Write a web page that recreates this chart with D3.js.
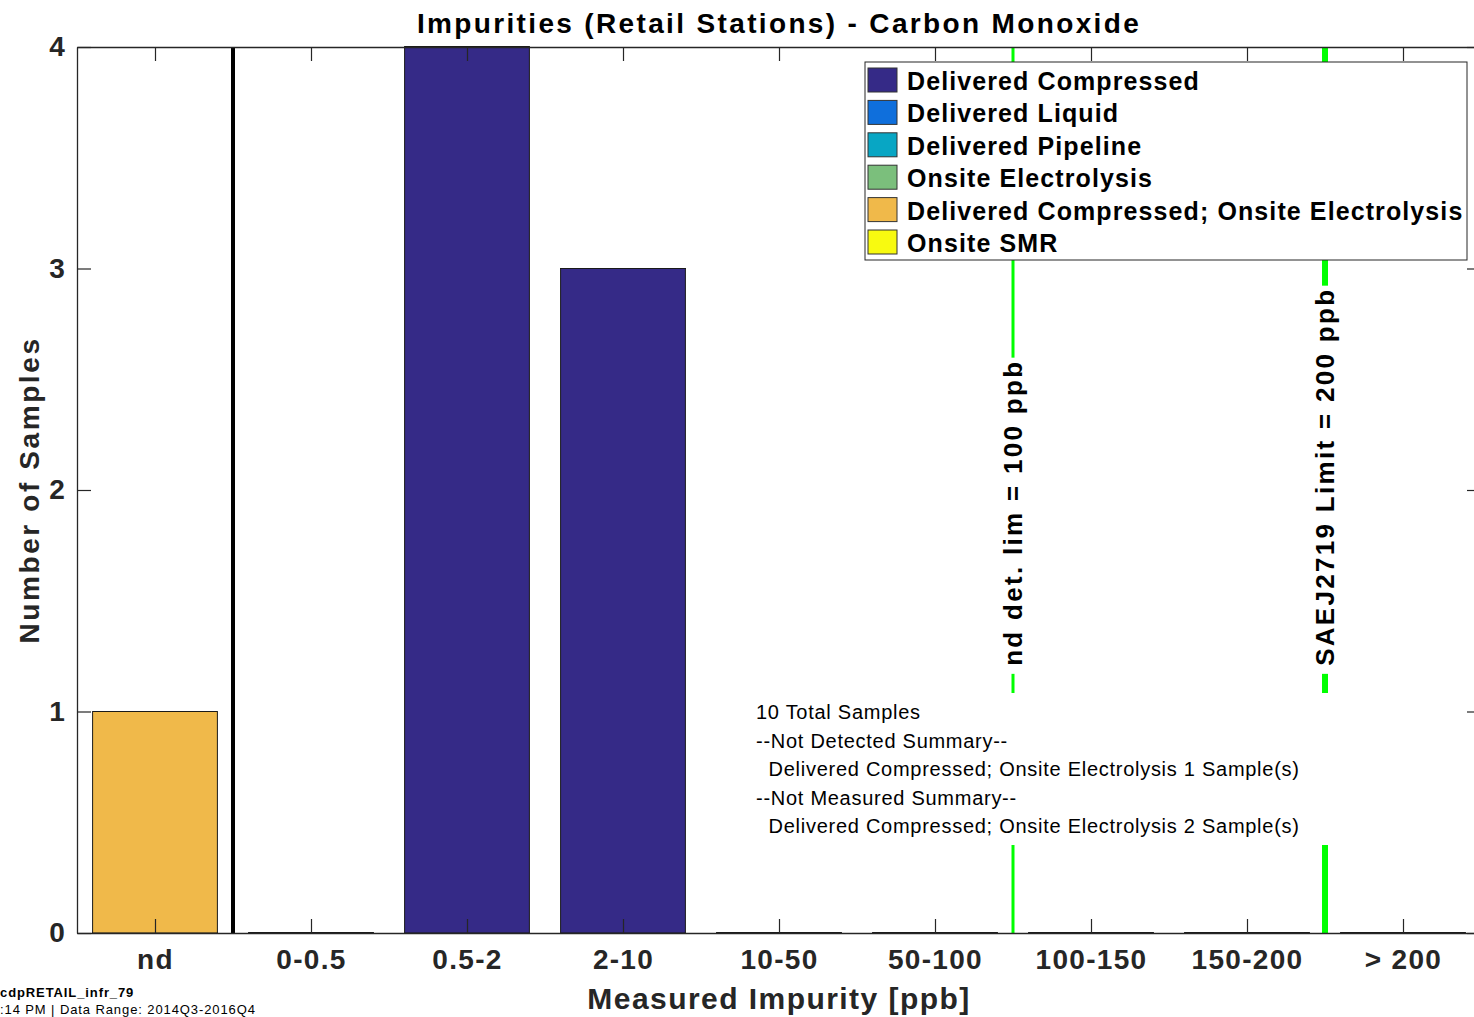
<!DOCTYPE html>
<html><head><meta charset="utf-8">
<script src="https://cdn.jsdelivr.net/npm/d3@7"></script>
<style>
html,body{margin:0;padding:0;background:#fff;overflow:hidden}
text{font-family:"Liberation Sans",Arial,Helvetica,sans-serif}
</style></head>
<body>
<svg id="chart" width="1474" height="1017"></svg>
<script>
// ---------- data ----------
const categories = ["nd","0-0.5","0.5-2","2-10","10-50","50-100","100-150","150-200","> 200"];
const seriesNames = ["Delivered Compressed","Delivered Liquid","Delivered Pipeline","Onsite Electrolysis","Delivered Compressed; Onsite Electrolysis","Onsite SMR"];
const seriesColors = ["#352a87","#0f6fdc","#08a6c4","#7bbf7c","#f0b94a","#f8fa10"];
const deliveredCompressed = [0,0,4,3,0,0,0,0,0];
const deliveredLiquid = [0,0,0,0,0,0,0,0,0];
const deliveredPipeline = [0,0,0,0,0,0,0,0,0];
const onsiteElectrolysis = [0,0,0,0,0,0,0,0,0];
const deliveredCompressedOnsiteElectrolysis = [1,0,0,0,0,0,0,0,0];
const onsiteSMR = [0,0,0,0,0,0,0,0,0];
const yTicks = [0,1,2,3,4];
const ndSeparatorPos = 1.5;
const limitLines = [
  {pos:6.5, label:"nd det. lim = 100 ppb", width:3},
  {pos:8.5, label:"SAEJ2719 Limit = 200 ppb", width:6}
];
const limitLabelY = 1.17;
const summaryLines = ["10 Total Samples","--Not Detected Summary--","  Delivered Compressed; Onsite Electrolysis 1 Sample(s)","--Not Measured Summary--","  Delivered Compressed; Onsite Electrolysis 2 Sample(s)"];
const titleText = "Impurities (Retail Stations) - Carbon Monoxide";
const xLabel = "Measured Impurity [ppb]";
const yLabel = "Number of Samples";
const footer1 = "cdpRETAIL_infr_79";
const footer2 = ":14 PM | Data Range: 2014Q3-2016Q4";

// ---------- layout ----------
const svg = d3.select("#chart");
const L = 77, T = 47, B = 933, R = 1481;
const axisColor = "#262626";
const x = d3.scaleLinear().domain([0.5, categories.length + 0.5]).range([L, R]);
const y = d3.scaleLinear().domain([0, 4]).range([B, T]);
const barW = 0.8;

const allSeries = [deliveredCompressed, deliveredLiquid, deliveredPipeline, onsiteElectrolysis, deliveredCompressedOnsiteElectrolysis, onsiteSMR];
const table = categories.map((c, i) => {
  const o = {cat: c, idx: i + 1};
  seriesNames.forEach((s, k) => o[s] = allSeries[k][i]);
  return o;
});
const stacked = d3.stack().keys(seriesNames)(table);

// limit lines (behind)
const gLines = svg.append("g");
limitLines.forEach(l => {
  gLines.append("line").attr("x1", x(l.pos)).attr("x2", x(l.pos)).attr("y1", y(4)).attr("y2", y(0))
    .attr("stroke", "#00ff00").attr("stroke-width", l.width);
});

// bars
const gBars = svg.append("g");
stacked.forEach((layer, k) => {
  gBars.selectAll(null).data(layer).enter().append("path")
    .attr("d", d => {
      const x0 = x(d.data.idx - barW / 2), x1 = x(d.data.idx + barW / 2);
      const y0 = y(d[0]), y1 = y(d[1]);
      return `M${x0},${y0}H${x1}V${y1}H${x0}Z`;
    })
    .attr("fill", seriesColors[k])
    .attr("stroke", "#1a1a1a").attr("stroke-width", 1);
});

// nd separator
svg.append("line").attr("x1", x(ndSeparatorPos)).attr("x2", x(ndSeparatorPos)).attr("y1", y(4)).attr("y2", y(0))
  .attr("stroke", "#000").attr("stroke-width", 4);

// axes
const fontTick = "bold 28px 'Liberation Sans', Arial, sans-serif";
const gx = svg.append("g").attr("transform", `translate(0,${B})`)
  .call(d3.axisBottom(x).tickValues(d3.range(1, categories.length + 1)).tickFormat(i => categories[i - 1]).tickSizeInner(-14).tickSizeOuter(0).tickPadding(16));
const gxTop = svg.append("g").attr("transform", `translate(0,${T})`)
  .call(d3.axisTop(x).tickValues(d3.range(1, categories.length + 1)).tickFormat("").tickSizeInner(-14).tickSizeOuter(0));
const gy = svg.append("g").attr("transform", `translate(${L},0)`)
  .call(d3.axisLeft(y).tickValues(yTicks).tickFormat(d3.format("d")).tickSizeInner(-14).tickSizeOuter(0).tickPadding(11));
const gyR = svg.append("g").attr("transform", `translate(${R},0)`)
  .call(d3.axisRight(y).tickValues(yTicks).tickFormat("").tickSizeInner(-14).tickSizeOuter(0));
[gx, gxTop, gy, gyR].forEach(g => {
  g.select(".domain").attr("stroke", axisColor).attr("stroke-width", 1.3);
  g.selectAll(".tick line").attr("stroke", axisColor).attr("stroke-width", 1.2);
  g.selectAll("text").style("font", fontTick).style("letter-spacing", "1.3px").attr("fill", axisColor);
});

// limit labels with white backgrounds
limitLines.forEach(l => {
  const g = svg.append("g");
  const t = g.append("text")
    .attr("transform", `translate(${x(l.pos)},${y(limitLabelY) - 8}) rotate(-90)`)
    .attr("dy", "0.35em")
    .attr("text-anchor", "start")
    .style("font", "bold 26px 'Liberation Sans', Arial, sans-serif")
    .style("letter-spacing", "2.3px")
    .attr("fill", "#000").text(l.label);
  const bb = t.node().getBBox(); // in rotated coords
  g.insert("rect", "text")
    .attr("transform", `translate(${x(l.pos)},${y(limitLabelY) - 8}) rotate(-90)`)
    .attr("x", bb.x - 8).attr("y", bb.y - 2).attr("width", bb.width + 10).attr("height", bb.height + 4)
    .attr("fill", "#fff");
});

// summary block
const gs = svg.append("g");
const sumX = 756, sumY0 = 719, sumDy = 28.5;
gs.selectAll("text").data(summaryLines).enter().append("text")
  .attr("x", sumX).attr("y", (d, i) => sumY0 + i * sumDy)
  .style("font", "20px 'Liberation Sans', Arial, sans-serif").style("white-space", "pre")
  .style("letter-spacing", "0.73px")
  .attr("fill", "#000").text(d => d);
const sbb = gs.node().getBBox();
gs.insert("rect", "text").attr("x", sbb.x - 6).attr("y", sbb.y - 8)
  .attr("width", sbb.width + 40).attr("height", sbb.height + 16).attr("fill", "#fff");

// legend
const lg = svg.append("g");
const lgX = 865, lgY = 62, lgW = 602, lgRow = 32.4;
lg.append("rect").attr("x", lgX).attr("y", lgY).attr("width", lgW).attr("height", 198)
  .attr("fill", "#fff").attr("stroke", axisColor).attr("stroke-width", 1);
seriesNames.forEach((s, i) => {
  lg.append("rect").attr("x", lgX + 3).attr("y", lgY + 6 + i * lgRow).attr("width", 29).attr("height", 24)
    .attr("fill", seriesColors[i]).attr("stroke", "#333").attr("stroke-width", 1);
  lg.append("text").attr("x", lgX + 42).attr("y", lgY + 19 + i * lgRow).attr("dy", "0.36em")
    .style("font", "bold 25px 'Liberation Sans', Arial, sans-serif").style("letter-spacing", "1.1px")
    .attr("fill", "#000").text(s);
});

// titles
svg.append("text").attr("x", 779).attr("y", 33).attr("text-anchor", "middle")
  .style("font", "bold 28px 'Liberation Sans', Arial, sans-serif").style("letter-spacing", "2.35px")
  .attr("fill", "#000").text(titleText);
svg.append("text").attr("x", 779).attr("y", 1009).attr("text-anchor", "middle")
  .style("font", "bold 30px 'Liberation Sans', Arial, sans-serif").style("letter-spacing", "1.45px")
  .attr("fill", axisColor).text(xLabel);
svg.append("text").attr("transform", `translate(39,${(T + B) / 2}) rotate(-90)`).attr("text-anchor", "middle")
  .style("font", "bold 28px 'Liberation Sans', Arial, sans-serif").style("letter-spacing", "2.6px")
  .attr("fill", axisColor).text(yLabel);

// footer
svg.append("text").attr("x", 0).attr("y", 997).style("font", "bold 13px 'Liberation Sans', Arial, sans-serif").style("letter-spacing", "0.9px").attr("fill", "#000").text(footer1);
svg.append("text").attr("x", 0).attr("y", 1014).style("font", "13px 'Liberation Sans', Arial, sans-serif").style("letter-spacing", "0.9px").attr("fill", "#000").text(footer2);
</script>
</body></html>
